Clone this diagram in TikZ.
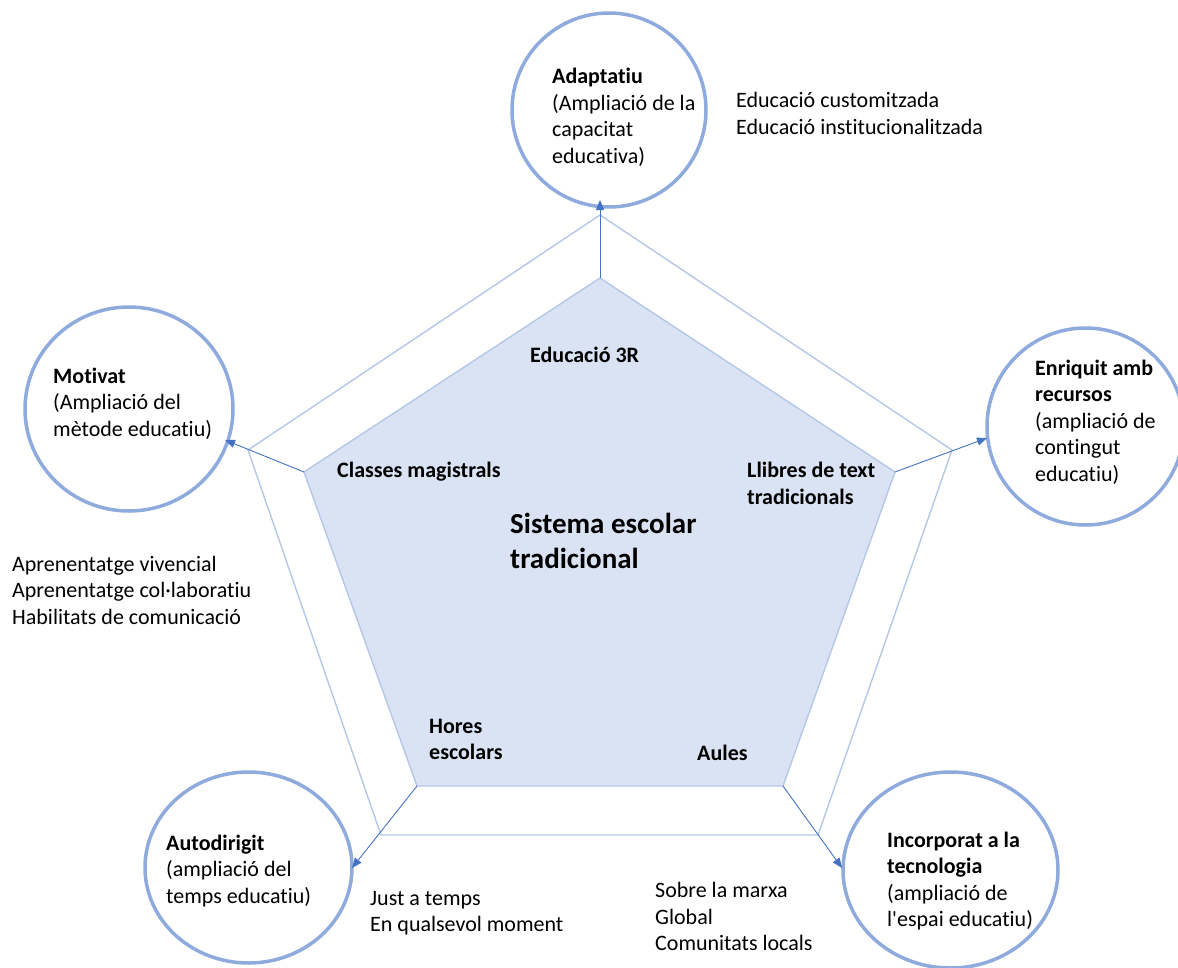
\documentclass[tikz,border=0pt]{standalone}
\usepackage{fontspec}
\setmainfont{Carlito}
\newfontfamily\bodyfont{Carlito}[Ligatures=NoCommon]
\usetikzlibrary{arrows.meta,shapes.geometric}
\definecolor{ringblue}{HTML}{8FAADC}
\definecolor{paleblue}{HTML}{DAE3F3}
\definecolor{edgeblue}{HTML}{B4C7E7}
\definecolor{arrowblue}{HTML}{4472C4}
\tikzset{
  ring/.style={draw=ringblue, line width=3.5pt, ellipse, inner sep=0pt},
  frame/.style={draw=edgeblue, line width=1.4pt, line join=miter},
  core/.style={fill=paleblue, draw=edgeblue, line width=1.4pt},
  link/.style={draw=arrowblue, line width=0.9pt, -{Triangle[length=10pt,width=8pt]}},
  txt/.style={anchor=west, align=left, inner sep=0pt, font=\bodyfont\fontsize{22}{26.5}\selectfont},
  lbl/.style={txt, font=\bodyfont\fontsize{22}{26.5}\selectfont\bfseries},
  ttl/.style={txt, font=\bodyfont\fontsize{29}{35}\selectfont\bfseries}
}
\begin{document}
\begin{tikzpicture}[x=1pt,y=-1pt]
\useasboundingbox (0,0) rectangle (1178,967);

% outer pentagon
\coordinate (po1) at (600,215);
\coordinate (po2) at (952,450);
\coordinate (po3) at (818,835);
\coordinate (po4) at (381,835);
\coordinate (po5) at (248,450);
\draw[frame] (po1) -- (po2) -- (po3) -- (po4) -- (po5) -- cycle;

% inner pentagon
\coordinate (pi1) at (600,278);
\coordinate (pi2) at (895,472);
\coordinate (pi3) at (783,786);
\coordinate (pi4) at (417,786);
\coordinate (pi5) at (304,472);
\draw[core] (pi1) -- (pi2) -- (pi3) -- (pi4) -- (pi5) -- cycle;

% rings
\node[ring, minimum width=194pt, minimum height=194pt] (ctop) at (609,110) {};
\node[ring, minimum width=208pt, minimum height=204pt] (cleft) at (129,409) {};
\node[ring, minimum width=197pt, minimum height=197pt] (cright) at (1085.5,426.5) {};
\node[ring, minimum width=207pt, minimum height=191pt] (cbl) at (248.5,867.5) {};
\node[ring, minimum width=215pt, minimum height=196pt] (cbr) at (950.5,870) {};

% arrow tips on the rings
\coordinate (t1) at (600,200);
\coordinate (t2) at (987,438);
\coordinate (t3) at (842,868);
\coordinate (t4) at (352,868);
\coordinate (t5) at (225,440);
\draw[link] (pi1) -- (t1);
\draw[link] (pi2) -- (t2);
\draw[link] (pi3) -- (t3);
\draw[link] (pi4) -- (t4);
\draw[link] (pi5) -- (t5);

% ring texts
\node[txt] (ttop) at (552,117.5) {\textbf{Adaptatiu}\\(Ampliació de la\\capacitat\\educativa)};
\node[txt] (tright) at (1035,422) {\textbf{Enriquit amb}\\\textbf{recursos}\\(ampliació de\\contingut\\educatiu)};
\node[txt] (tleft) at (53,403.5) {\textbf{Motivat}\\(Ampliació del\\mètode educatiu)};
\node[txt] (tbl) at (166,871) {\textbf{Autodirigit}\\(ampliació del\\temps educatiu)};
\node[txt] (tbr) at (887,881) {\textbf{Incorporat a la}\\\textbf{tecnologia}\\(ampliació de\\l'espai educatiu)};

% side notes
\node[txt] (ntop) at (736,113.5) {Educació customitzada\\Educació institucionalitzada};
\node[txt] (nleft) at (12,590) {Aprenentatge vivencial\\Aprenentatge col·laboratiu\\Habilitats de comunicació};
\node[txt] (nbl) at (370,913) {Just a temps\\En qualsevol moment};
\node[txt] (nbr) at (655,916.5) {Sobre la marxa\\Global\\Comunitats locals};

% labels inside the pentagon
\node[lbl] (l1) at (530,355) {Educació 3R};
\node[lbl] (l2) at (747,483.5) {Llibres de text\\tradicionals};
\node[lbl] (l3) at (697,753) {Aules};
\node[lbl] (l4) at (429,739.5) {Hores\\escolars};
\node[lbl] (l5) at (337,472) {Classes magistrals};
\node[ttl] (center) at (510,540.5) {Sistema escolar\\tradicional};
\end{tikzpicture}
\end{document}
